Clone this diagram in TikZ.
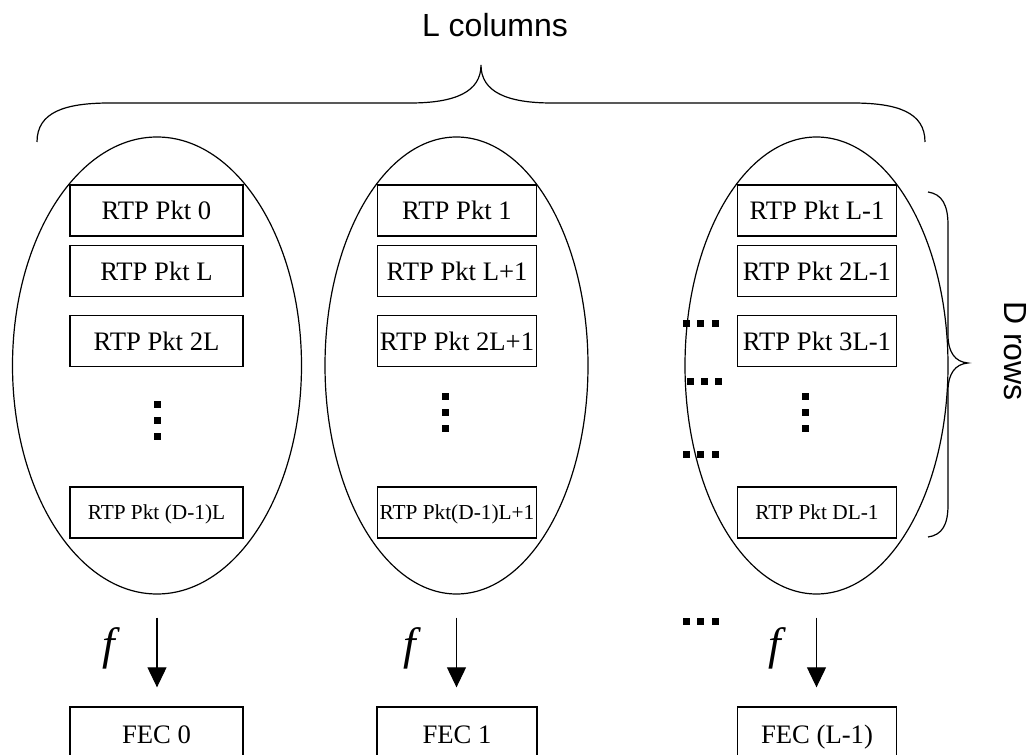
\documentclass[tikz,border=0pt]{standalone}
\usepackage{fontspec}
\setmainfont{Liberation Serif}
\newfontfamily\arialf{Liberation Sans}
\usetikzlibrary{shapes.geometric,arrows.meta}
\newcommand\sqdot[2]{\fill (#1-3.5,#2-3.5) rectangle (#1+3.5,#2+3.5);}
\begin{document}
\begin{tikzpicture}[x=0.75pt,y=-0.75pt,
 pkt/.style={draw,line width=1pt,inner sep=0pt,minimum height=38.25pt,text height=13.2pt,text depth=0pt,font=\fontsize{20}{20}\selectfont},
 pktsmall/.style={pkt,text height=10.6pt,font=\fontsize{16}{16}\selectfont},
 widebox/.style={minimum width=129.75pt},
 narrowbox/.style={minimum width=119.25pt},
 col/.style={draw,ellipse,line width=0.9pt,inner sep=0pt,minimum height=342.75pt},
 fec/.style={draw,line width=1pt,inner sep=0pt,minimum height=42pt,text height=13.2pt,text depth=0pt,font=\fontsize{20}{20}\selectfont},
 arr/.style={line width=0.8pt,-{Triangle[width=14.25pt,length=15pt]},shorten <=17.25pt,shorten >=14.25pt},
 brace/.style={line width=0.9pt},
 fl/.style={font=\fontsize{34}{34}\selectfont\itshape},
 sans/.style={font=\arialf\fontsize{24}{24}\selectfont}
]
\useasboundingbox (0,0) rectangle (1028,755);
\clip (0,0) rectangle (1028,755);

% columns
\node[col,minimum width=216.75pt] (e0) at (157,365.5) {};
\node[col,minimum width=197.25pt] (e1) at (456.5,365.5) {};
\node[col,minimum width=197.25pt] (e2) at (816.5,365.5) {};

% packets column 0
\node[pkt,widebox] (p00) at (156.5,210.5) {RTP Pkt 0};
\node[pkt,widebox] (p01) at (156.5,271.3) {RTP Pkt L};
\node[pkt,widebox] (p02) at (156.5,341.3) {RTP Pkt 2L};
\node[pktsmall,widebox] (p03) at (156.5,512.5) {RTP Pkt (D-1)L};
% packets column 1
\node[pkt,narrowbox] (p10) at (457,210.5) {RTP Pkt 1};
\node[pkt,narrowbox] (p11) at (457,271.3) {RTP Pkt L+1};
\node[pkt,narrowbox] (p12) at (457,341.3) {RTP Pkt 2L+1};
\node[pktsmall,narrowbox] (p13) at (457,512.5) {RTP Pkt(D-1)L+1};
% packets column L-1
\node[pkt,narrowbox] (p20) at (817,210.5) {RTP Pkt L-1};
\node[pkt,narrowbox] (p21) at (817,271.3) {RTP Pkt 2L-1};
\node[pkt,narrowbox] (p22) at (817,341.3) {RTP Pkt 3L-1};
\node[pktsmall,narrowbox] (p23) at (817,512.5) {RTP Pkt DL-1};

% vertical dots
\foreach \yy in {405,420.5,436.5} {\sqdot{157}{\yy}}
\foreach \yy in {396.5,412.5,428.5} {\sqdot{445}{\yy} \sqdot{805}{\yy}}
% horizontal dots
\foreach \xx in {686.7,700.7,715} {\sqdot{\xx}{324} \sqdot{\xx}{454.7} \sqdot{\xx}{621.7}}
\foreach \xx in {690,704,718.3} {\sqdot{\xx}{381.7}}

% FEC boxes
\node[fec,minimum width=129.75pt] (fec0) at (156.5,735) {FEC 0};
\node[fec,minimum width=120pt] (fec1) at (457,735) {FEC 1};
\node[fec,minimum width=119.25pt] (fec2) at (817,735) {FEC (L-1)};

% arrows
\draw[arr] (e0.south) -- (e0.south |- fec0.north);
\draw[arr] (e1.south) -- (e1.south |- fec1.north);
\draw[arr] (e2.south) -- (e2.south |- fec2.north);
\node[fl] (f0) at (109,648) {f};
\node[fl] (f1) at (410,648) {f};
\node[fl] (f2) at (775,648) {f};

% braces
\draw[brace] (37,142) .. controls (37,112) and (65,103) .. (110,103) -- (410,103)
  .. controls (455,103) and (481,92) .. (481,65)
  .. controls (481,92) and (507,103) .. (552,103) -- (852,103)
  .. controls (897,103) and (925,112) .. (925,142);
\draw[brace] (928,192) .. controls (942,194) and (948,205) .. (948,225) -- (948,335)
  .. controls (948,352) and (955,362) .. (968,363)
  .. controls (955,364) and (948,374) .. (948,391) -- (948,505)
  .. controls (948,525) and (942,535) .. (928,537);
\node[sans] (lc) at (495,25) {L columns};
\node[sans,rotate=-90,inner sep=0pt] (dr) at (1015,351) {D rows};
\end{tikzpicture}
\end{document}
